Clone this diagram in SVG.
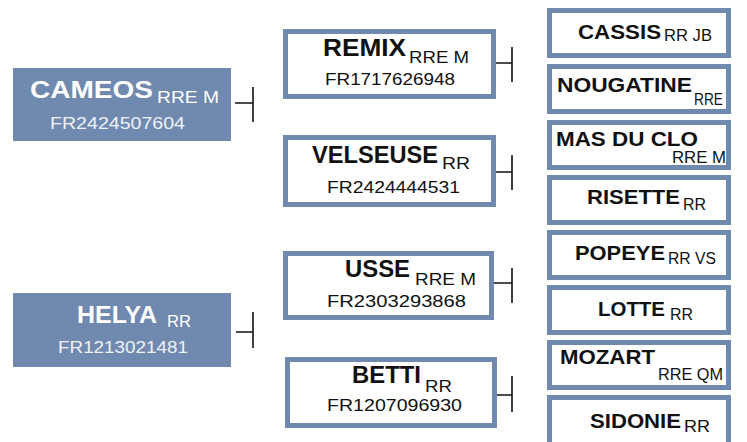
<svg xmlns="http://www.w3.org/2000/svg" width="747" height="442" viewBox="0 0 747 442">
<style>
.sire{fill:#7089ae}
.box{fill:#fff;stroke:#7089ae;stroke-width:5}
.n{font-family:"Liberation Sans",Arial,sans-serif;font-weight:bold;fill:#111;font-size:23px}
.nr{font-family:"Liberation Sans",Arial,sans-serif;font-weight:bold;fill:#111;font-size:21px}
.s{font-family:"Liberation Sans",Arial,sans-serif;fill:#111;font-size:16px}
.f{font-family:"Liberation Sans",Arial,sans-serif;fill:#111;font-size:17px}
.w{fill:#fff}
.lw{fill:#eef2f7}
.c{stroke:#111;stroke-width:1.6;fill:none}
</style>
<g id="cameos">
<rect class="sire" x="13" y="68" width="218" height="73"/>
<text class="n w" x="30" y="98" font-size="25" textLength="123" lengthAdjust="spacingAndGlyphs">CAMEOS</text>
<text class="s w" x="157" y="103" textLength="62" lengthAdjust="spacingAndGlyphs">RRE M</text>
<text class="f lw" x="50" y="129" textLength="135" lengthAdjust="spacingAndGlyphs">FR2424507604</text>
</g>
<g id="helya">
<rect class="sire" x="13" y="293" width="218" height="74"/>
<text class="n w" x="77" y="323" font-size="25" textLength="80" lengthAdjust="spacingAndGlyphs">HELYA</text>
<text class="s w" x="167" y="327" textLength="24" lengthAdjust="spacingAndGlyphs">RR</text>
<text class="f lw" x="58" y="353" textLength="130" lengthAdjust="spacingAndGlyphs">FR1213021481</text>
</g>
<g id="remix">
<rect class="box" x="285.5" y="31.5" width="208" height="65"/>
<text class="n" x="323" y="56" textLength="83" lengthAdjust="spacingAndGlyphs">REMIX</text>
<text class="s" x="409" y="63" textLength="60" lengthAdjust="spacingAndGlyphs">RRE M</text>
<text class="f" x="325" y="85" textLength="130" lengthAdjust="spacingAndGlyphs">FR1717626948</text>
</g>
<g id="velseuse">
<rect class="box" x="285.5" y="137.5" width="208" height="67"/>
<text class="n" x="312" y="163" textLength="126" lengthAdjust="spacingAndGlyphs">VELSEUSE</text>
<text class="s" x="442" y="169" textLength="28" lengthAdjust="spacingAndGlyphs">RR</text>
<text class="f" x="327" y="193" textLength="133" lengthAdjust="spacingAndGlyphs">FR2424444531</text>
</g>
<g id="usse">
<rect class="box" x="285.5" y="253.5" width="206" height="64"/>
<text class="n" x="345" y="277" textLength="65" lengthAdjust="spacingAndGlyphs">USSE</text>
<text class="s" x="415" y="285" textLength="61" lengthAdjust="spacingAndGlyphs">RRE M</text>
<text class="f" x="327" y="307" textLength="139" lengthAdjust="spacingAndGlyphs">FR2303293868</text>
</g>
<g id="betti">
<rect class="box" x="287.5" y="359.5" width="207" height="66"/>
<text class="n" x="352" y="383" textLength="69" lengthAdjust="spacingAndGlyphs">BETTI</text>
<text class="s" x="425" y="392" textLength="27" lengthAdjust="spacingAndGlyphs">RR</text>
<text class="f" x="327" y="411" textLength="135" lengthAdjust="spacingAndGlyphs">FR1207096930</text>
</g>
<g id="cassis">
<rect class="box" x="549.5" y="10.5" width="179" height="45"/>
<text class="nr" x="578" y="39" textLength="83" lengthAdjust="spacingAndGlyphs">CASSIS</text>
<text class="s" x="664" y="41" textLength="48" lengthAdjust="spacingAndGlyphs">RR JB</text>
</g>
<g id="nougatine">
<rect class="box" x="549.5" y="66.5" width="179" height="45"/>
<text class="nr" x="557" y="92" textLength="135" lengthAdjust="spacingAndGlyphs">NOUGATINE</text>
<text class="s" x="694" y="105" textLength="29" lengthAdjust="spacingAndGlyphs">RRE</text>
</g>
<g id="masduclo">
<rect class="box" x="549.5" y="122.5" width="179" height="45"/>
<text class="nr" x="556" y="146" textLength="142" lengthAdjust="spacingAndGlyphs">MAS DU CLO</text>
<text class="s" x="672" y="163" textLength="54" lengthAdjust="spacingAndGlyphs">RRE M</text>
</g>
<g id="risette">
<rect class="box" x="549.5" y="177.5" width="179" height="45"/>
<text class="nr" x="587" y="204" textLength="93" lengthAdjust="spacingAndGlyphs">RISETTE</text>
<text class="s" x="683" y="210" textLength="23" lengthAdjust="spacingAndGlyphs">RR</text>
</g>
<g id="popeye">
<rect class="box" x="549.5" y="232.5" width="179" height="45"/>
<text class="nr" x="575" y="260" textLength="90" lengthAdjust="spacingAndGlyphs">POPEYE</text>
<text class="s" x="668" y="264" textLength="48" lengthAdjust="spacingAndGlyphs">RR VS</text>
</g>
<g id="lotte">
<rect class="box" x="549.5" y="287.5" width="179" height="45"/>
<text class="nr" x="598" y="316" textLength="67" lengthAdjust="spacingAndGlyphs">LOTTE</text>
<text class="s" x="670" y="320" textLength="23" lengthAdjust="spacingAndGlyphs">RR</text>
</g>
<g id="mozart">
<rect class="box" x="549.5" y="342.5" width="179" height="45"/>
<text class="nr" x="560" y="364" textLength="95" lengthAdjust="spacingAndGlyphs">MOZART</text>
<text class="s" x="658" y="380" textLength="65" lengthAdjust="spacingAndGlyphs">RRE QM</text>
</g>
<g id="sidonie">
<rect class="box" x="549.5" y="397.5" width="179" height="50"/>
<text class="nr" x="590" y="428" textLength="91" lengthAdjust="spacingAndGlyphs">SIDONIE</text>
<text class="s" x="684" y="432" textLength="26" lengthAdjust="spacingAndGlyphs">RR</text>
</g>
<g id="connectors" class="c">
<path d="M235 103H253M253 87V122"/>
<path d="M236 332H253M253 312V348"/>
<path d="M496 63H512M512 47V82"/>
<path d="M496 172H512M512 155V190"/>
<path d="M494 283H512M512 268V303"/>
<path d="M497 395H512M512 376V412"/>
</g>
</svg>
